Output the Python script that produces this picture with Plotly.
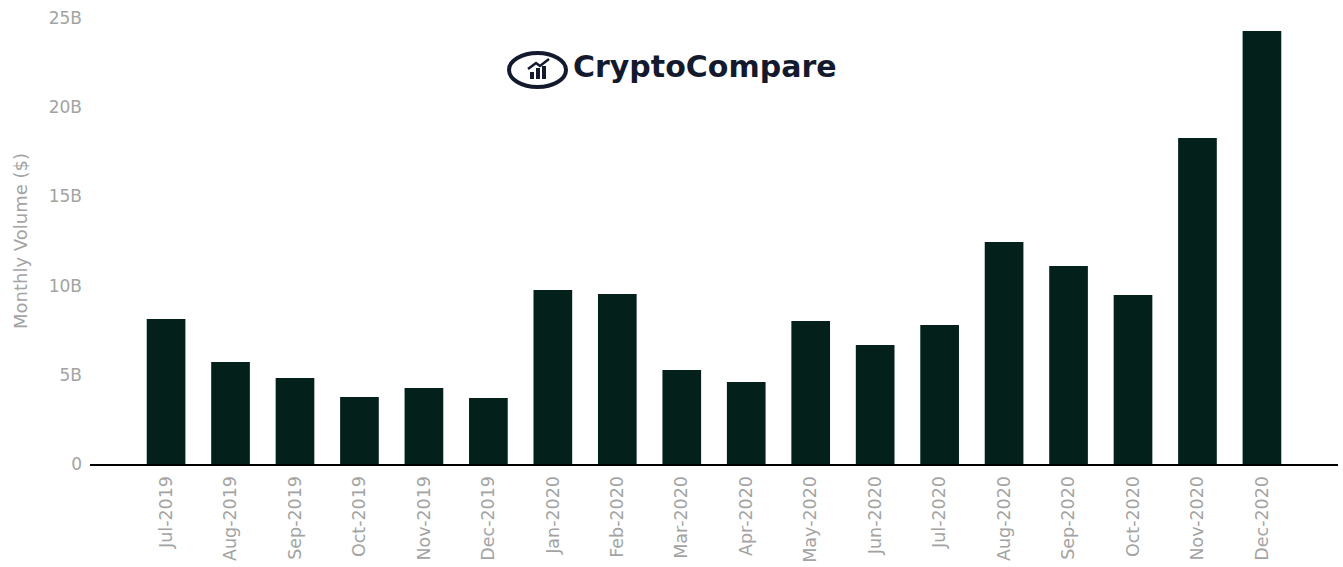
import plotly.graph_objects as go

months = [
    "Jul-2019", "Aug-2019", "Sep-2019", "Oct-2019", "Nov-2019", "Dec-2019",
    "Jan-2020", "Feb-2020", "Mar-2020", "Apr-2020", "May-2020", "Jun-2020",
    "Jul-2020", "Aug-2020", "Sep-2020", "Oct-2020", "Nov-2020", "Dec-2020",
]
volume_b = [
    8.13, 5.72, 4.82, 3.76, 4.26, 3.70,
    9.75, 9.53, 5.27, 4.60, 8.02, 6.67,
    7.79, 12.44, 11.10, 9.47, 18.27, 24.27,
]
y_tickvals = [0, 5e9, 10e9, 15e9, 20e9, 25e9]
y_ticktext = ["0", "5B", "10B", "15B", "20B", "25B"]

BAR_COLOR = "#03201b"
GREY = "#a3a3a3"
LOGO = "#141a2e"
FONT = "DejaVu Sans, sans-serif"

fig = go.Figure(
    go.Bar(
        x=list(range(len(months))),
        y=[v * 1e9 for v in volume_b],
        marker=dict(color=BAR_COLOR, line=dict(width=0)),
        width=0.6,
        hoverinfo="skip",
    )
)

fig.update_layout(
    width=1343,
    height=567,
    margin=dict(l=90, r=5, t=18, b=103),
    paper_bgcolor="white",
    plot_bgcolor="white",
    showlegend=False,
    font=dict(family=FONT, color=GREY, size=17),
    xaxis=dict(
        range=[-1.18, 18.18],
        tickvals=list(range(len(months))),
        ticktext=months,
        tickangle=-90,
        showgrid=False,
        zeroline=False,
        showline=True,
        linecolor="black",
        linewidth=2,
        ticks="",
        ticklabelstandoff=3,
        automargin=False,
        tickfont=dict(family=FONT, size=17.5, color=GREY),
    ),
    yaxis=dict(
        range=[0, 25e9],
        tickvals=y_tickvals,
        ticktext=y_ticktext,
        showgrid=False,
        zeroline=False,
        showline=False,
        ticks="",
        ticklabelstandoff=7,
        ticklabeloverflow="allow",
        automargin=False,
        tickfont=dict(family=FONT, size=17, color=GREY),
        title=dict(text="Monthly Volume ($)", font=dict(family=FONT, size=18, color=GREY), standoff=16),
    ),
)


def px_x(px):
    return (px - 90) / 1248


def px_y(py):
    return (464 - py) / 446


# logo: ring, small chart icon and wordmark
fig.add_shape(
    type="circle", xref="paper", yref="paper",
    x0=px_x(509), x1=px_x(566), y0=px_y(87), y1=px_y(53),
    line=dict(color=LOGO, width=4),
)
for bx0, bx1, btop in [(530, 534, 72), (536, 540, 68), (542, 546, 66)]:
    fig.add_shape(
        type="rect", xref="paper", yref="paper",
        x0=px_x(bx0), x1=px_x(bx1), y0=px_y(79), y1=px_y(btop),
        line=dict(width=0), fillcolor=LOGO,
    )
fig.add_shape(
    type="path", xref="paper", yref="paper",
    path=f"M {px_x(528)},{px_y(69)} L {px_x(536)},{px_y(63)} L {px_x(540)},{px_y(66)} L {px_x(549)},{px_y(59)}",
    line=dict(color=LOGO, width=2.5),
)
fig.add_annotation(
    x=px_x(571), y=px_y(66.5), xref="paper", yref="paper",
    xanchor="left", yanchor="middle",
    text="<b>CryptoCompare</b>", showarrow=False,
    font=dict(family=FONT, size=30, color=LOGO),
)

# drop the default 8px body margin so the figure fills the window exactly
fig.write_html(
    "out.html",
    config={"displayModeBar": False},
    post_script="document.body.style.margin = '0';",
)
